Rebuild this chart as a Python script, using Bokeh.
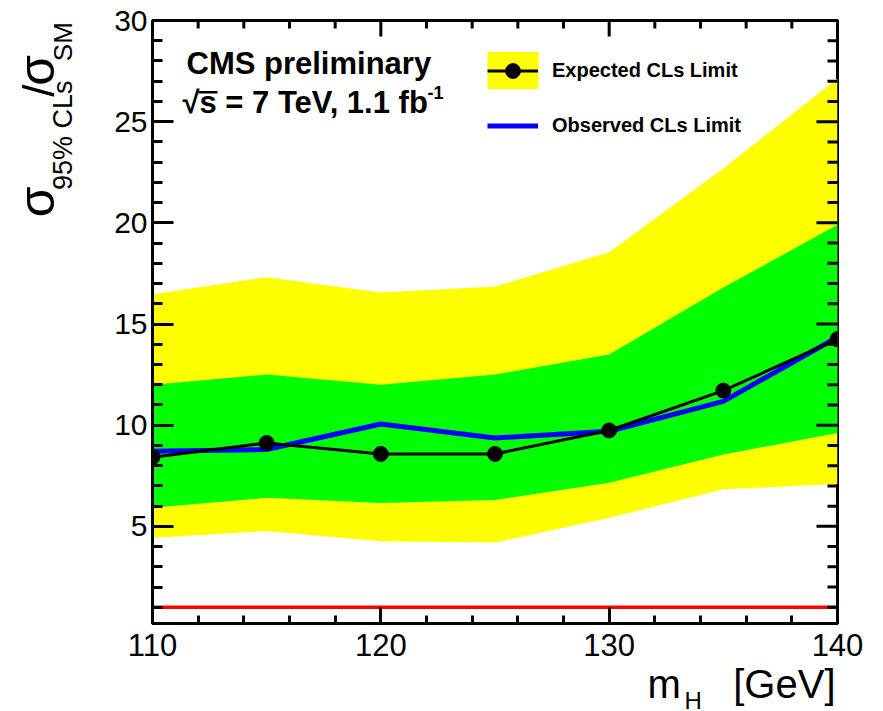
import math
from bokeh.plotting import figure
from bokeh.layouts import column, row
from bokeh.models import (Range1d, FixedTicker, LinearAxis, Label, Legend, LegendItem,
                          BoxAnnotation)
from bokeh.embed import file_html
from bokeh.resources import INLINE

# ---- data ----
mass = [110, 115, 120, 125, 130, 135, 140]
expected = [8.42, 9.12, 8.58, 8.58, 9.74, 11.71, 14.25]
observed = [8.71, 8.80, 10.06, 9.37, 9.70, 11.18, 14.35]
one_sigma_lo = [5.92, 6.41, 6.16, 6.30, 7.15, 8.55, 9.62]
one_sigma_hi = [12.0, 12.5, 12.0, 12.5, 13.5, 16.8, 19.9]
two_sigma_lo = [4.44, 4.77, 4.27, 4.20, 5.42, 6.83, 7.10]
two_sigma_hi = [16.47, 17.31, 16.56, 16.85, 18.55, 22.69, 27.13]
sm_level = 1.0
x_major = [110, 120, 130, 140]
x_minor = [112, 114, 116, 118, 122, 124, 126, 128, 132, 134, 136, 138]
y_major = [5, 10, 15, 20, 25, 30]
y_minor = [i for i in range(1, 31) if i % 5 != 0]

FONT = "Liberation Sans"
H = 711
XH = 46   # height of the x-title strip (overlaps the bottom border of the main plot)
K = 0.37  # label anchor sits ~0.37 em above the text baseline

# ---------------- main plot ----------------
p = figure(title=None, width=783, height=H, frame_width=685, frame_height=603,
           min_border_left=52, min_border_right=46, min_border_top=20, min_border_bottom=88,
           x_range=Range1d(110, 140), y_range=Range1d(0.2, 30),
           output_backend="svg", toolbar_location=None,
           x_axis_location=None, y_axis_location=None)
p.background_fill_color = "white"
p.border_fill_color = "white"
p.xgrid.visible = False
p.ygrid.visible = False
p.outline_line_color = "black"
p.outline_line_width = 3

yellow = p.varea(x=mass, y1=two_sigma_lo, y2=two_sigma_hi, fill_color="#ffff00")
green = p.varea(x=mass, y1=one_sigma_lo, y2=one_sigma_hi, fill_color="#00ff00")
p.line(x=[110, 140], y=[sm_level, sm_level], line_color="#ff0000", line_width=3.5)
obs = p.line(x=mass, y=observed, line_color="#0000ff", line_width=5)
exp_line = p.line(x=mass, y=expected, line_color="black", line_width=3)
exp_pts = p.scatter(x=mass, y=expected, size=15, fill_color="black", line_color="black")


def make_axis(loc, is_x):
    ax = LinearAxis(axis_label=None)
    if is_x:
        ax.ticker = FixedTicker(ticks=x_major, minor_ticks=x_minor)
        ax.major_tick_in, ax.minor_tick_in = 16, 8
        ax.major_label_text_font_size = "31px"
        ax.major_label_standoff = 10
    else:
        ax.ticker = FixedTicker(ticks=y_major, minor_ticks=y_minor)
        ax.major_tick_in, ax.minor_tick_in = 21, 10
        ax.major_label_text_font_size = "30px"
        ax.major_label_standoff = 5
    ax.major_tick_out = 0
    ax.minor_tick_out = 0
    ax.axis_line_width = 3
    ax.axis_line_color = "black"
    ax.major_tick_line_width = 3
    ax.minor_tick_line_width = 3
    ax.major_tick_line_color = "black"
    ax.minor_tick_line_color = "black"
    ax.major_label_text_font = FONT
    ax.major_label_text_color = "black"
    p.add_layout(ax, loc)


make_axis("below", True)
make_axis("left", False)

# ticks on the top and right frame edges (half of each bar is clipped by the frame)
tick_kw = dict(fill_color="black", line_color=None, width_units="screen", height_units="screen")
p.rect(x=x_major, y=30, width=3, height=32, **tick_kw)
p.rect(x=x_minor, y=30, width=3, height=16, **tick_kw)
p.rect(x=140, y=y_major, width=42, height=3, **tick_kw)
p.rect(x=140, y=y_minor, width=20, height=3, **tick_kw)

FB = 623  # canvas y of the frame bottom


def lab(fig_text, cx, base_y, size, bold=False, align="left"):
    cy = base_y - K * size
    p.add_layout(Label(x=cx - 152, y=FB - cy, x_units="screen", y_units="screen",
                       text=fig_text, text_font=FONT, text_font_size=f"{size}px",
                       text_font_style="bold" if bold else "normal",
                       text_color="black", text_baseline="alphabetic", text_align=align))


lab("CMS preliminary", 186, 74, 31, bold=True)
lab("\u221as = 7 TeV, 1.1 fb", 182, 113, 31, bold=True)
lab("-1", 427, 99, 18, bold=True)
p.add_layout(BoxAnnotation(left=198 - 152, right=217 - 152, top=FB - 90.5, bottom=FB - 93,
                           left_units="screen", right_units="screen",
                           top_units="screen", bottom_units="screen",
                           fill_color="black", fill_alpha=1, line_color=None))

# legend: yellow patch under the first entry
p.add_layout(BoxAnnotation(left=487 - 152, right=538 - 152, top=FB - 51.5, bottom=FB - 88.5,
                           left_units="screen", right_units="screen",
                           top_units="screen", bottom_units="screen",
                           fill_color="#ffff00", fill_alpha=1, line_color=None))
legend = Legend(items=[
    LegendItem(label="Expected CLs Limit", renderers=[yellow, exp_line, exp_pts]),
    LegendItem(label="Observed CLs Limit", renderers=[obs]),
], location=(487 - 152, FB - 143.5), orientation="vertical",
    glyph_width=51, glyph_height=37, label_height=37, spacing=18, padding=0, margin=0,
    label_standoff=14, label_text_font=FONT, label_text_font_size="20px",
    label_text_font_style="bold", label_text_color="black",
    background_fill_alpha=0, border_line_color=None)
p.add_layout(legend, "center")

# ---------------- y-axis title panel (canvas x 0..100) ----------------
yf = figure(title=None, width=100, height=H, x_range=Range1d(0, 100), y_range=Range1d(0, H),
            min_border=0, output_backend="svg", toolbar_location=None,
            x_axis_location=None, y_axis_location=None)
yf.xgrid.visible = False
yf.ygrid.visible = False
yf.outline_line_color = None
yf.background_fill_color = "white"
yf.border_fill_color = "white"


def ylab(text, base_x, start_y, size):
    # text reads bottom-to-top; its baseline is the vertical line x = base_x
    yf.add_layout(Label(x=base_x - K * size, y=H - start_y, text=text, text_font=FONT,
                        text_font_size=f"{size}px", text_color="black",
                        text_baseline="alphabetic", text_align="left",
                        angle=math.pi / 2, angle_units="rad"))


ylab("\u03c3", 55, 232, 50)
ylab("95% CLs", 72, 200, 27)
ylab("/", 54, 90, 44)
ylab("\u03c3", 55, 77, 50)
ylab("SM", 72, 48, 26)

# ---------------- x-axis title strip (pulled up over the bottom border) ----------------
xf = figure(title=None, width=883, height=XH, x_range=Range1d(0, 883), y_range=Range1d(0, XH),
            min_border=0, output_backend="svg", toolbar_location=None,
            x_axis_location=None, y_axis_location=None, margin=(-XH, 0, 0, 0))
xf.xgrid.visible = False
xf.ygrid.visible = False
xf.outline_line_color = None
xf.background_fill_alpha = 0
xf.border_fill_alpha = 0


def xlab(text, cx, base_y, size, align="left"):
    cy = base_y - K * size
    xf.add_layout(Label(x=cx, y=H - cy, text=text, text_font=FONT,
                        text_font_size=f"{size}px", text_color="black",
                        text_baseline="alphabetic", text_align=align))


xlab("m", 647, 698, 40)
xlab("H", 684, 709, 24)
xlab("[GeV]", 835, 698, 40, align="right")

layout = column(row(yf, p, spacing=0), xf, spacing=0)
open("out.html", "w").write(file_html(layout, INLINE))
